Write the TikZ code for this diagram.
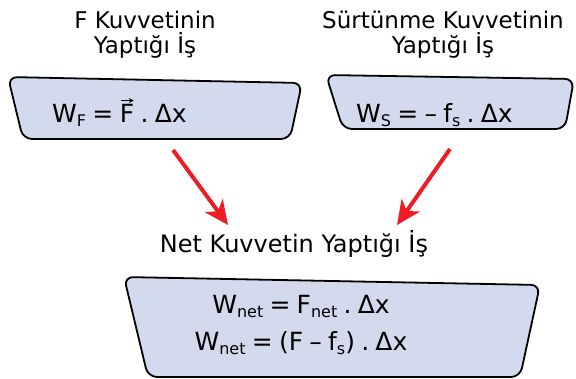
\documentclass[tikz,border=0pt]{standalone}
\usepackage{fontspec}
\setmainfont{DejaVu Sans}
\usetikzlibrary{arrows.meta}
\definecolor{boxfill}{HTML}{D4DAEE}
\definecolor{arrred}{HTML}{EE1D25}
\newcommand{\mysub}[1]{\raisebox{-0.35ex}{\fontsize{16}{16}\selectfont #1}}
\newcommand{\fgap}{\hspace{0.25em}}
\begin{document}
\begin{tikzpicture}[x=1pt,y=-1pt,
  box/.style={draw=black,line width=1.8pt,fill=boxfill,rounded corners=9pt},
  title/.style={anchor=base,inner sep=0pt,font=\fontsize{23}{27}\selectfont},
  nettitle/.style={anchor=base,inner sep=0pt,font=\fontsize{24}{28}\selectfont},
  formula/.style={inner sep=0pt,font=\fontsize{25}{29}\selectfont},
  vecarrow/.style={draw=black,line width=1.3pt,-{Stealth[length=5pt,width=5pt]}},
  redarrow/.style={draw=arrred,line width=4pt,-{Stealth[length=24pt,width=22pt,inset=7pt]}}]
\useasboundingbox (0,0) rectangle (576,378);
% boxes
\draw[box] (8,77) -- (302,83) -- (290,139) -- (23,139) -- cycle;
\draw[box] (326,75) -- (574,79) -- (565,129) -- (343,129) -- cycle;
\draw[box] (124,277) -- (540,285) -- (520,377) -- (148,377) -- cycle;
% titles
\node[title] (t1a) at (145,28) {F Kuvvetinin};
\node[title] (t1b) at (145,53) {Yaptığı İş};
\node[title] (t2a) at (443,28) {Sürtünme Kuvvetinin};
\node[title] (t2b) at (443,53) {Yaptığı İş};
\node[nettitle] (tn) at (294,252) {Net Kuvvetin Yaptığı İş};
% formulas
\node[formula,anchor=base west] (f1a) at (52,122) {W\mysub{F}\fgap=};
\node[formula,anchor=base west] (f1b) at ([xshift=6.25pt]f1a.base east) {F\fgap.\fgap Δx};
\draw[vecarrow] ([shift={(1.5pt,3pt)}]f1b.north west) -- ([shift={(14pt,3pt)}]f1b.north west);
\node[formula,anchor=base west] (f2) at (356,122) {W\mysub{S}\fgap=\fgap–\fgap f\mysub{s}\fgap.\fgap Δx};
\node[formula,anchor=base] (f3) at (301,313) {W\mysub{net}\fgap=\fgap F\mysub{net}\fgap.\fgap Δx};
\node[formula,anchor=base] (f4) at (301,350) {W\mysub{net}\fgap=\fgap(F\fgap–\fgap f\mysub{s})\fgap.\fgap Δx};
% arrows
\coordinate (a1s) at (173,150);
\coordinate (a1e) at (228,225);
\coordinate (a2s) at (450,149);
\coordinate (a2e) at (397,225);
\draw[redarrow] (a1s) -- (a1e);
\draw[redarrow] (a2s) -- (a2e);
\end{tikzpicture}
\end{document}
